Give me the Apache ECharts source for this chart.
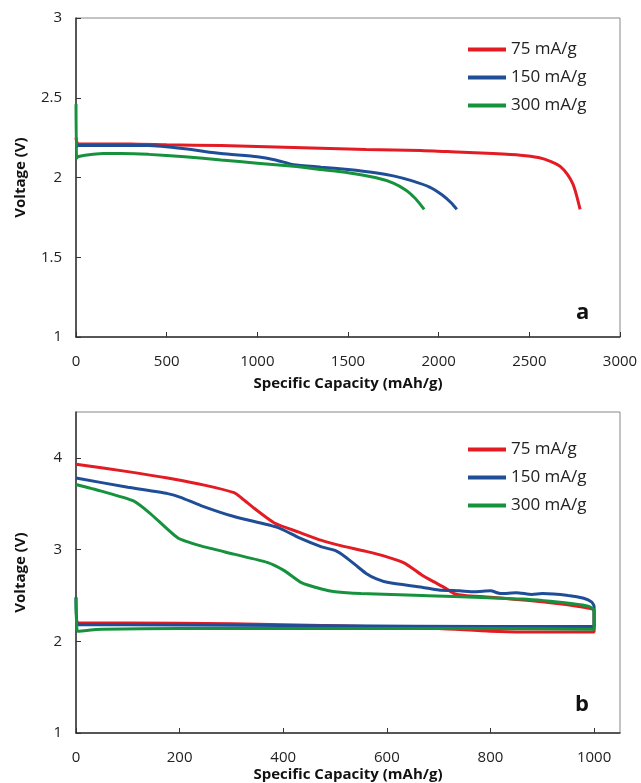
<!DOCTYPE html>
<html>
<head>
<meta charset="utf-8">
<script src="https://cdn.jsdelivr.net/npm/echarts@6/dist/echarts.min.js"></script>
<style>
  html, body { margin: 0; padding: 0; background: #fff; }
  #chart { width: 641px; height: 783px; }
</style>
</head>
<body>
<div id="chart"></div>
<script>
// legend names
const rateNames = ['75 mA/g', '150 mA/g', '300 mA/g']

// panel a - full discharge
const capA75 = [0, 5, 20, 100, 300, 500, 800, 1000, 1300, 1600, 1900, 2100, 2300, 2450, 2550, 2620, 2670, 2710, 2740, 2760, 2780]
const voltA75 = [2.25, 2.22, 2.21, 2.21, 2.21, 2.205, 2.2, 2.195, 2.185, 2.175, 2.17, 2.16, 2.15, 2.14, 2.125, 2.1, 2.07, 2.02, 1.96, 1.89, 1.8]
const capA150 = [0, 10, 50, 200, 400, 600, 800, 1000, 1100, 1200, 1350, 1500, 1650, 1750, 1850, 1950, 2020, 2070, 2100]
const voltA150 = [2.19, 2.2, 2.2, 2.2, 2.2, 2.18, 2.15, 2.13, 2.11, 2.08, 2.065, 2.05, 2.03, 2.01, 1.98, 1.94, 1.89, 1.84, 1.8]
const capA300 = [0, 3, 10, 50, 150, 250, 400, 600, 800, 1000, 1200, 1350, 1500, 1650, 1750, 1820, 1870, 1900, 1920]
const voltA300 = [2.46, 2.12, 2.13, 2.14, 2.15, 2.15, 2.145, 2.13, 2.11, 2.09, 2.07, 2.05, 2.03, 2.0, 1.965, 1.92, 1.87, 1.83, 1.8]

// panel b - limited capacity cycles (lower branch then upper branch back to 0)
const capB75 = [0, 5, 100, 300, 500, 700, 800, 900, 1000, 1000, 980, 900, 800, 750, 730, 713, 690, 668, 635, 600, 560, 513, 474, 430, 383, 344, 320, 305, 250, 177, 100, 0]
const voltB75 = [2.22, 2.2, 2.2, 2.19, 2.17, 2.14, 2.11, 2.1, 2.1, 2.33, 2.37, 2.43, 2.48, 2.5, 2.52, 2.58, 2.65, 2.72, 2.85, 2.92, 2.98, 3.04, 3.1, 3.19, 3.29, 3.45, 3.56, 3.62, 3.7, 3.78, 3.85, 3.93]
const capB150 = [0, 3, 100, 500, 800, 1000, 1000, 995, 980, 950, 900, 880, 850, 820, 800, 770, 740, 700, 668, 603, 580, 560, 540, 520, 500, 474, 430, 390, 305, 241, 202, 177, 100, 0]
const voltB150 = [2.48, 2.18, 2.18, 2.17, 2.16, 2.16, 2.38, 2.43, 2.47, 2.5, 2.52, 2.51, 2.53, 2.52, 2.55, 2.54, 2.55, 2.56, 2.59, 2.64, 2.68, 2.74, 2.83, 2.92, 2.99, 3.03, 3.13, 3.24, 3.36, 3.48, 3.57, 3.61, 3.68, 3.78]
const capB300 = [0, 3, 50, 200, 500, 800, 1000, 1000, 990, 959, 862, 668, 550, 500, 474, 435, 402, 369, 305, 241, 196, 144, 111, 47, 0]
const voltB300 = [2.47, 2.11, 2.13, 2.14, 2.14, 2.14, 2.13, 2.34, 2.38, 2.41, 2.46, 2.5, 2.52, 2.54, 2.57, 2.64, 2.77, 2.86, 2.95, 3.04, 3.13, 3.39, 3.53, 3.64, 3.71]

const colors = ['#e31b23', '#1f4e96', '#16923d']

function zip(xs, ys) {
  return xs.map((x, i) => [x, ys[i]])
}

const chart = echarts.init(document.getElementById('chart'))

const font = '"Open Sans", sans-serif'

function xAxisFor(gridIndex, max, interval, nameGap) {
  return {
    type: 'value',
    gridIndex: gridIndex,
    min: 0,
    max: max,
    interval: interval,
    name: 'Specific Capacity (mAh/g)',
    nameLocation: 'middle',
    nameGap: nameGap,
    nameTextStyle: { fontFamily: font, fontWeight: 'bold', fontSize: 15, color: '#111' },
    axisLine: { onZero: false, lineStyle: { color: '#333', width: 1.5 } },
    axisTick: { inside: true, length: 5, lineStyle: { color: '#333' } },
    axisLabel: {
      showMaxLabel: max === 3000,
      margin: 17,
      fontFamily: font,
      fontSize: 15,
      color: '#222',
      formatter: v => String(v)
    },
    splitLine: { show: false }
  }
}

function yAxisFor(gridIndex, min, max, interval, showMax) {
  return {
    type: 'value',
    gridIndex: gridIndex,
    min: min,
    max: max,
    interval: interval,
    name: 'Voltage (V)',
    nameLocation: 'middle',
    nameGap: 48,
    nameTextStyle: { fontFamily: font, fontWeight: 'bold', fontSize: 15, color: '#111' },
    axisLine: { onZero: false, lineStyle: { color: '#333', width: 1.5 } },
    axisTick: { inside: true, length: 5, lineStyle: { color: '#333' } },
    axisLabel: { showMaxLabel: showMax, margin: 14, fontFamily: font, fontSize: 15, color: '#222' },
    splitLine: { show: false }
  }
}

function lineSeries(name, idx, xi, data) {
  return {
    name: name,
    type: 'line',
    xAxisIndex: xi,
    yAxisIndex: xi,
    data: data,
    showSymbol: false,
    symbol: 'none',
    smooth: 0.2,
    lineStyle: { color: colors[idx], width: 3 },
    itemStyle: { color: colors[idx] },
    animation: false
  }
}

function legendAt(top) {
  return {
    data: rateNames,
    orient: 'vertical',
    left: 463,
    top: top,
    icon: 'rect',
    itemWidth: 38,
    itemHeight: 4,
    itemGap: 11,
    textStyle: { fontFamily: font, fontSize: 17, color: '#222' }
  }
}

chart.setOption({
  animation: false,
  grid: [
    { left: 76, top: 18, width: 544, height: 319, show: true, borderColor: '#888', borderWidth: 1 },
    { left: 76, top: 412, width: 544, height: 321, show: true, borderColor: '#888', borderWidth: 1 }
  ],
  legend: [legendAt(36), legendAt(436)],
  graphic: [
    { type: 'text', left: 576, top: 302, style: { text: 'a', font: 'bold 22px "Open Sans", sans-serif', fill: '#111' } },
    { type: 'text', left: 575, top: 694, style: { text: 'b', font: 'bold 22px "Open Sans", sans-serif', fill: '#111' } }
  ],
  xAxis: [xAxisFor(0, 3000, 500, 39), xAxisFor(1, 1050, 200, 34)],
  yAxis: [yAxisFor(0, 1, 3, 0.5, true), yAxisFor(1, 1, 4.5, 1, false)],
  series: [
    lineSeries(rateNames[0], 0, 0, zip(capA75, voltA75)),
    lineSeries(rateNames[1], 1, 0, zip(capA150, voltA150)),
    lineSeries(rateNames[2], 2, 0, zip(capA300, voltA300)),
    lineSeries(rateNames[0], 0, 1, zip(capB75, voltB75)),
    lineSeries(rateNames[1], 1, 1, zip(capB150, voltB150)),
    lineSeries(rateNames[2], 2, 1, zip(capB300, voltB300))
  ]
})
</script>
</body>
</html>
